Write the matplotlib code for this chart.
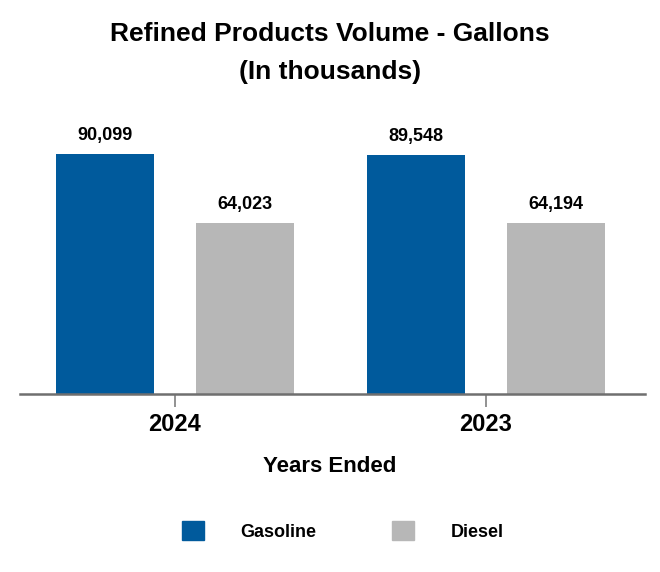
import numpy as np
import matplotlib.pyplot as plt
from matplotlib.patches import Patch

years = ['2024', '2023']
gasoline = [90099, 89548]
diesel = [64023, 64194]
series_names = ['Gasoline', 'Diesel']
colors = ['#005a9c', '#b7b7b7']

plt.rcParams['font.family'] = ['Liberation Sans', 'DejaVu Sans']
plt.rcParams['font.weight'] = 'bold'

W, H = 660, 572
fig = plt.figure(figsize=(W / 100, H / 100), dpi=100)
top_px, base_px = 120, 394
ax = fig.add_axes([20 / W, 1 - base_px / H, 625 / W, (base_px - top_px) / H])

x = np.arange(len(years))
width = 0.315
off = 0.225
b1 = ax.bar(x - off, gasoline, width, color=colors[0])
b2 = ax.bar(x + off, diesel, width, color=colors[1])
for bars in (b1, b2):
    for r in bars:
        ax.text(r.get_x() + r.get_width() / 2, r.get_height() + 3800,
                '{:,}'.format(int(r.get_height())), ha='center', va='bottom',
                fontsize=13, fontweight='bold')

ax.set_ylim(0, 90099 * (base_px - top_px) / 240)
ax.set_xlim(-0.498, 1.511)
ax.set_xticks(x)
ax.set_xticklabels(years, fontsize=17, fontweight='bold')
ax.tick_params(axis='x', length=9, width=1.2, color='#7f7f7f', pad=5)
ax.set_yticks([])
for s in ['top', 'left', 'right']:
    ax.spines[s].set_visible(False)
ax.spines['bottom'].set_color('#6f6f6f')
ax.spines['bottom'].set_linewidth(1.8)

fig.text(0.5, 1 - 466 / H, 'Years Ended', ha='center', va='center',
         fontsize=16, fontweight='bold')
fig.text(0.5, 1 - 34 / H, 'Refined Products Volume - Gallons',
         ha='center', va='center', fontsize=19, fontweight='bold')
fig.text(0.5, 1 - 72 / H, '(In thousands)',
         ha='center', va='center', fontsize=19, fontweight='bold')

handles = [Patch(color=c) for c in colors]
fig.legend(handles, series_names, loc='center', bbox_to_anchor=(343 / W, 1 - 531 / H),
           ncol=2, frameon=False, fontsize=13, handlelength=1.22, handleheight=1.22,
           handletextpad=2.0, columnspacing=4.2)

fig.savefig('out.png', dpi=100)
